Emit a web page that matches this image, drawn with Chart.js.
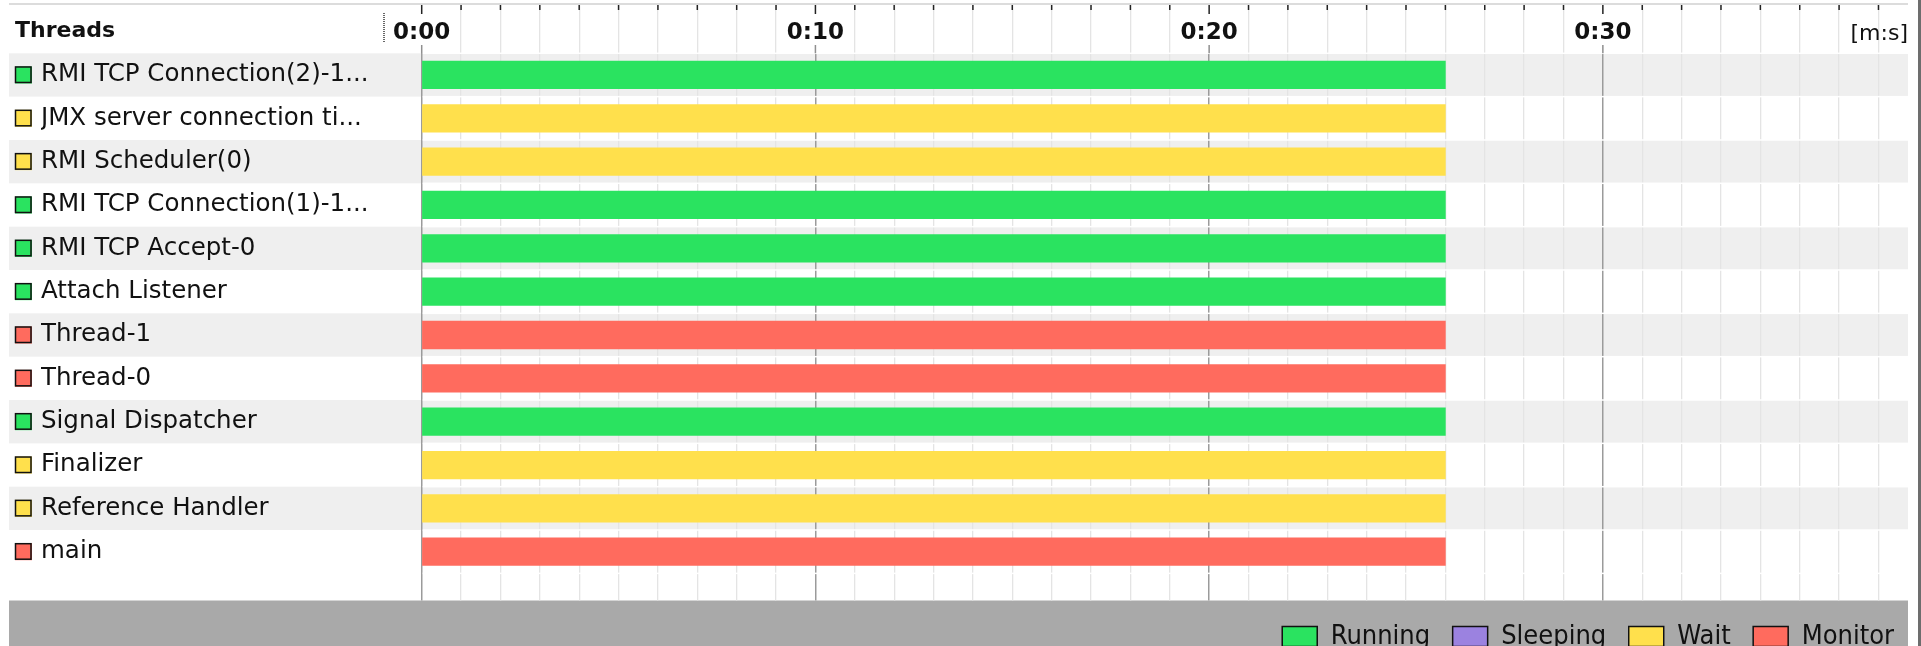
<!DOCTYPE html>
<html>
<head>
<meta charset="utf-8">
<title>Threads</title>
<script src="https://cdn.jsdelivr.net/npm/chart.js@4.4.1/dist/chart.umd.min.js"></script>
<style>
  html, body { margin: 0; padding: 0; background: #fff; overflow: hidden; }
  #wrap { width: 1921px; height: 660px; }
  canvas { display: block; }
</style>
</head>
<body>
<div id="wrap"><canvas id="threadsChart" width="1921" height="660"></canvas></div>
<script>
const threadNames = [
  "RMI TCP Connection(2)-1...",
  "JMX server connection ti...",
  "RMI Scheduler(0)",
  "RMI TCP Connection(1)-1...",
  "RMI TCP Accept-0",
  "Attach Listener",
  "Thread-1",
  "Thread-0",
  "Signal Dispatcher",
  "Finalizer",
  "Reference Handler",
  "main",
];
const threadStates = [
  "Running", "Wait", "Wait", "Running", "Running", "Running",
  "Monitor", "Monitor", "Running", "Wait", "Wait", "Monitor",
];
const startSec = [0, 0, 0, 0, 0, 0, 0, 0, 0, 0, 0, 0];
const endSec = [26, 26, 26, 26, 26, 26, 26, 26, 26, 26, 26, 26];
const stateNames = ["Running", "Sleeping", "Wait", "Monitor"];
const timeMax = 37.75;
const majorStep = 10;

const stateColors = {
  Running: "#2ae360",
  Sleeping: "#9b82e0",
  Wait: "#ffe04c",
  Monitor: "#ff6b5e",
};

const FONT = "'DejaVu Sans', sans-serif";

function fmtTime(v) {
  const m = Math.floor(v / 60);
  const s = v % 60;
  return `${m}:${String(s).padStart(2, "0")}`;
}

function isMajor(v) {
  return v % majorStep === 0;
}

function buildDatasets() {
  return stateNames.map((state) => ({
    label: state,
    data: threadNames
      .map((_, i) => (threadStates[i] === state ? { x: [startSec[i], endSec[i]], y: i } : null))
      .filter((d) => d),
    backgroundColor: stateColors[state],
    borderColor: "#111",
    borderWidth: 0,
    barThickness: 27.6,
    grouped: false,
  }));
}

// stripes, footer, header marks and the little state squares
const threadFrame = {
  id: "threadFrame",
  afterLayout(chart) {
    // legend sits a little further right than the plot edge
    chart.legend.right = chart.width - 4.5;
  },
  beforeDraw(chart) {
    const { ctx, chartArea: a, scales: { y } } = chart;
    ctx.save();
    threadNames.forEach((_, i) => {
      if (i % 2) return;
      const top = y.getPixelForValue(i - 0.5);
      const bot = y.getPixelForValue(i + 0.5);
      ctx.fillStyle = "#efefef";
      ctx.fillRect(9, top, a.right - 9, bot - top);
    });
    ctx.fillStyle = "#dcdcdc";
    ctx.fillRect(9, 3, a.right - 9, 2);
    ctx.fillStyle = "#a9a9a9";
    ctx.fillRect(9, a.bottom, a.right - 9, chart.height - a.bottom);
    ctx.restore();
  },
  beforeDatasetsDraw(chart) {
    const { ctx, chartArea: a, scales: { y } } = chart;
    ctx.save();
    ctx.fillStyle = "#ffffff";
    for (let i = 0; i <= threadNames.length; i++) {
      const py = y.getPixelForValue(i - 0.5);
      ctx.fillRect(a.left + 1, py - 0.75, a.right - a.left - 1, 1.5);
    }
    ctx.restore();
  },
  afterDraw(chart) {
    const { ctx, chartArea: a, scales: { x, y } } = chart;
    ctx.save();
    // column header
    ctx.fillStyle = "#111";
    ctx.font = `bold 22px ${FONT}`;
    ctx.textBaseline = "middle";
    ctx.textAlign = "left";
    ctx.fillText("Threads", 15, 31);
    // tick marks along the top edge
    ctx.strokeStyle = "#222";
    ctx.lineWidth = 1.5;
    x.ticks.forEach((t) => {
      const px = x.getPixelForValue(t.value);
      ctx.beginPath();
      ctx.moveTo(px, 5);
      ctx.lineTo(px, isMajor(t.value) ? 14 : 10);
      ctx.stroke();
      if (isMajor(t.value)) {
        ctx.save();
        ctx.strokeStyle = "#8f8f8f";
        ctx.beginPath();
        ctx.moveTo(px, 45);
        ctx.lineTo(px, a.top);
        ctx.stroke();
        ctx.restore();
      }
    });
    // dotted splitter next to the time axis
    ctx.setLineDash([1, 1]);
    ctx.strokeStyle = "#333";
    ctx.beginPath();
    ctx.moveTo(384, 13);
    ctx.lineTo(384, 42);
    ctx.stroke();
    ctx.setLineDash([]);
    // state squares in front of the thread names
    threadNames.forEach((_, i) => {
      const py = y.getPixelForValue(i);
      ctx.fillStyle = stateColors[threadStates[i]];
      ctx.fillRect(15, py - 8.5, 17, 17);
      ctx.lineWidth = 1.5;
      ctx.strokeStyle = "#111";
      ctx.strokeRect(15.5, py - 8, 15.5, 15.5);
    });
    // right window edge
    ctx.fillStyle = "#6d6d6d";
    ctx.fillRect(1918, 0, 3, chart.height);
    ctx.restore();
  },
};

function init() {
  const ctx = document.getElementById("threadsChart").getContext("2d");
  new Chart(ctx, {
    type: "bar",
    data: { datasets: buildDatasets() },
    plugins: [threadFrame],
    options: {
      indexAxis: "y",
      responsive: false,
      animation: false,
      layout: { padding: { left: 41, right: 13, top: 0, bottom: 0 } },
      scales: {
        x: {
          type: "linear",
          position: "top",
          min: 0,
          max: timeMax,
          border: { display: false },
          grid: {
            color: (c) => (c.tick && isMajor(c.tick.value) ? "#9b9b9b" : "#e4e4e4"),
            lineWidth: (c) => (c.tick && isMajor(c.tick.value) ? 1.5 : 1.3),
            tickLength: 48,
            tickColor: (c) => (c.tick && isMajor(c.tick.value) ? "rgba(0,0,0,0)" : "#e4e4e4"),
          },
          ticks: {
            stepSize: 1,
            includeBounds: false,
            autoSkip: false,
            maxRotation: 0,
            padding: -41.3,
            color: "#111",
            font: { family: FONT, size: 23, weight: "bold" },
            callback: (v) => (isMajor(v) ? fmtTime(v) : ""),
          },
          title: {
            display: true,
            text: "[m:s]",
            align: "end",
            color: "#111",
            padding: { top: 20.8, bottom: 0 },
            font: { family: FONT, size: 22 },
          },
          afterFit: (s) => { s.height = 53.3; },
        },
        y: {
          type: "linear",
          reverse: true,
          offset: false,
          min: -0.5,
          max: 12.126,
          border: { display: false },
          grid: { display: false, offset: false },
          ticks: {
            stepSize: 1,
            includeBounds: false,
            autoSkip: false,
            crossAlign: "far",
            color: "#111",
            font: { family: FONT, size: 24.5 },
            callback: (v) => threadNames[v] ?? "",
          },
          afterFit: (s) => { s.width = 380.7; },
        },
      },
      plugins: {
        tooltip: { enabled: false },
        legend: {
          position: "bottom",
          align: "end",
          labels: {
            boxWidth: 35,
            boxHeight: 20,
            padding: 22.5,
            color: "#111",
            font: { family: "'DejaVu Sans Condensed', 'DejaVu Sans', sans-serif", size: 27 },
            generateLabels: (chart) =>
              Chart.defaults.plugins.legend.labels.generateLabels(chart).map((l) => ({
                ...l,
                lineWidth: 1.5,
                strokeStyle: "#111",
              })),
          },
        },
      },
    },
  });
}

document.addEventListener("DOMContentLoaded", init);
</script>
</body>
</html>
